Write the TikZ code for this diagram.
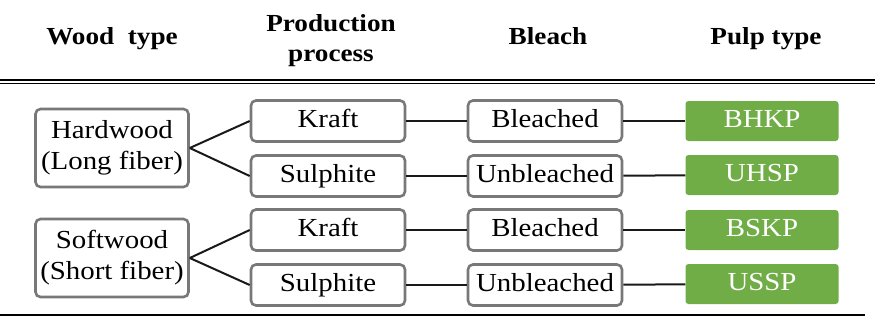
\documentclass[tikz,border=0pt]{standalone}
\usepackage{fontspec}
\setmainfont[FakeStretch=1.11]{Liberation Serif}
\definecolor{boxgray}{RGB}{120,120,120}
\definecolor{pulpgreen}{RGB}{112,173,71}

\tikzstyle{every node}=[font={\fontsize{26}{31}\selectfont}, inner sep=2pt, align=center]
\tikzstyle{head}=[font={\fontsize{24.5}{30}\selectfont\bfseries}]
\tikzstyle{box}=[draw=boxgray, line width=2.6pt, rounded corners=5pt, fill=white]
\tikzstyle{stage}=[box, minimum width=154pt, minimum height=41pt, text height=17pt, text depth=5pt]
\tikzstyle{wood}=[box, minimum width=153pt, minimum height=78pt]
\tikzstyle{pulp}=[fill=pulpgreen, text=white, rounded corners=3pt, minimum width=153pt, minimum height=40pt, text height=17pt, text depth=5pt]
\tikzstyle{link}=[line width=2pt, black!90]

\begin{document}
\begin{tikzpicture}[x=1pt, y=-1pt]
    \useasboundingbox (0,0) rectangle (875,325);

    \node [head, anchor=base] (hwood) at (112,44) {Wood\ \ type};
    \node [head] (hproc) at (331,41) {Production\\process};
    \node [head, anchor=base] (hbleach) at (548,44) {Bleach};
    \node [head, anchor=base] (hpulp) at (766,44) {Pulp type};

    \draw [line width=2.3pt] (0,80) -- (875,80);
    \draw [line width=1.3pt] (0,83.5) -- (875,83.5);
    \draw [line width=2pt] (0,315) -- (865,315);

    \node [wood] (hard) at (112,148) {Hardwood\\(Long fiber)};
    \node [wood] (soft) at (112,258) {Softwood\\(Short fiber)};

    \node [stage] (kraft1) at (328,121) {Kraft};
    \node [stage] (sulph1) at (328,176) {Sulphite};
    \node [stage] (kraft2) at (328,230) {Kraft};
    \node [stage] (sulph2) at (328,285) {Sulphite};

    \node [stage] (bl1) at (545,121) {Bleached};
    \node [stage] (unbl1) at (545,176) {Unbleached};
    \node [stage] (bl2) at (545,230) {Bleached};
    \node [stage] (unbl2) at (545,285) {Unbleached};

    \node [pulp] (bhkp) at (762,121) {BHKP};
    \node [pulp] (uhsp) at (762,175) {UHSP};
    \node [pulp] (bskp) at (762,230) {BSKP};
    \node [pulp] (ussp) at (762,284) {USSP};

    \draw [link] (hard.east) -- (kraft1.west);
    \draw [link] (hard.east) -- (sulph1.west);
    \draw [link] (soft.east) -- (kraft2.west);
    \draw [link] (soft.east) -- (sulph2.west);

    \draw [link] (kraft1) -- (bl1);
    \draw [link] (sulph1) -- (unbl1);
    \draw [link] (kraft2) -- (bl2);
    \draw [link] (sulph2) -- (unbl2);

    \draw [link] (bl1) -- (bhkp);
    \draw [link] (unbl1) -- (uhsp);
    \draw [link] (bl2) -- (bskp);
    \draw [link] (unbl2) -- (ussp);
\end{tikzpicture}
\end{document}
